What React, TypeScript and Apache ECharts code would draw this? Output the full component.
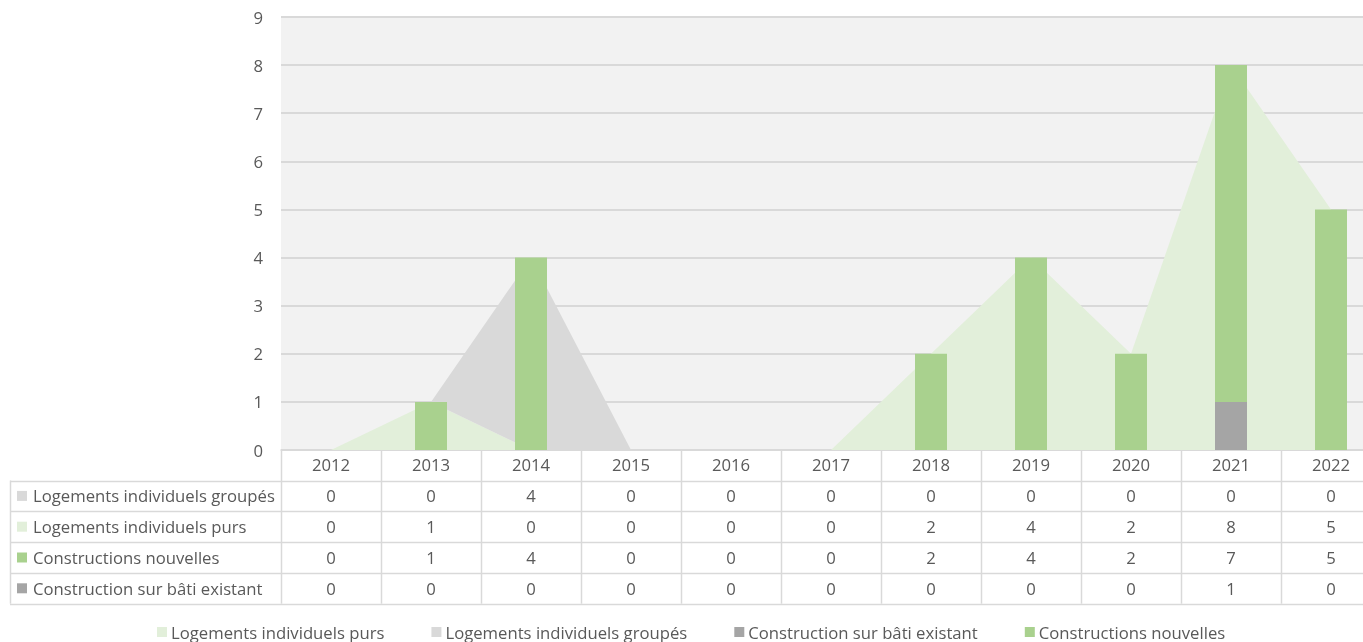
import React, { useEffect, useRef } from "react";
import * as echarts from "echarts";

const years = ["2012", "2013", "2014", "2015", "2016", "2017", "2018", "2019", "2020", "2021", "2022"];
const groupes = [0, 0, 4, 0, 0, 0, 0, 0, 0, 0, 0];
const purs = [0, 1, 0, 0, 0, 0, 2, 4, 2, 8, 5];
const nouvelles = [0, 1, 4, 0, 0, 0, 2, 4, 2, 7, 5];
const batiExistant = [0, 0, 0, 0, 0, 0, 0, 0, 0, 1, 0];

const NAME_PURS = "Logements individuels purs";
const NAME_GROUPES = "Logements individuels groupés";
const NAME_BATI = "Construction sur bâti existant";
const NAME_NOUV = "Constructions nouvelles";

const C_PURS = "#e2efda";
const C_GROUPES = "#d9d9d9";
const C_BATI = "#a5a5a5";
const C_NOUV = "#a9d18e";

const FONT = "'Open Sans', sans-serif";
const FS = 16.7;
const TXT = "#595959";
const LINE = "#d9d9d9";

export default function App() {
  const ref = useRef<HTMLDivElement>(null);
  useEffect(() => {
    if (!ref.current) return;
    const chart = echarts.init(ref.current, undefined, { renderer: "svg" });
    const gridLeft = 281;
    const gridTop = 17;
    const gridHeight = 433;
    chart.setOption({
      animation: false,
      textStyle: { fontFamily: FONT, color: TXT },
      grid: {
        left: gridLeft,
        top: gridTop,
        width: 1100,
        height: gridHeight,
        show: true,
        backgroundColor: "#f2f2f2",
        borderWidth: 0,
      },
      legend: {
        left: 157,
        top: 623,
        padding: 0,
        icon: "rect",
        itemWidth: 10,
        itemHeight: 10,
        itemGap: 47,
        textStyle: { fontFamily: FONT, fontSize: FS, color: TXT, lineHeight: 18, padding: [0, 0, 0, -1] },
        data: [NAME_PURS, NAME_GROUPES, NAME_BATI, NAME_NOUV],
      },
      xAxis: {
        type: "category",
        data: years,
        boundaryGap: true,
        axisLine: { show: true, lineStyle: { color: LINE, width: 1.5 } },
        axisTick: { show: false },
        axisLabel: { fontFamily: FONT, fontSize: FS, color: TXT, margin: 6 },
      },
      yAxis: {
        type: "value",
        min: 0,
        max: 9,
        interval: 1,
        axisLine: { show: false },
        axisTick: { show: false },
        splitLine: { lineStyle: { color: LINE, width: 2 } },
        axisLabel: { fontFamily: FONT, fontSize: FS, color: TXT, margin: 18 },
      },
      series: [
        {
          name: NAME_PURS,
          type: "line",
          stack: "area",
          data: purs,
          symbol: "none",
          z: 1,
          lineStyle: { width: 0 },
          itemStyle: { color: C_PURS },
          areaStyle: { color: C_PURS, opacity: 1 },
        },
        {
          name: NAME_GROUPES,
          type: "line",
          stack: "area",
          data: groupes,
          symbol: "none",
          z: 1,
          lineStyle: { width: 0 },
          itemStyle: { color: C_GROUPES },
          areaStyle: { color: C_GROUPES, opacity: 1 },
        },
        {
          name: NAME_BATI,
          type: "bar",
          stack: "bar",
          data: batiExistant,
          barWidth: 32,
          z: 5,
          itemStyle: { color: C_BATI },
        },
        {
          name: NAME_NOUV,
          type: "bar",
          stack: "bar",
          data: nouvelles,
          barWidth: 32,
          z: 5,
          itemStyle: { color: C_NOUV },
        },
      ],
    });

    // Data table below the axis
    const rows = [
      { name: NAME_GROUPES, color: C_GROUPES, values: groupes },
      { name: NAME_PURS, color: C_PURS, values: purs },
      { name: NAME_NOUV, color: C_NOUV, values: nouvelles },
      { name: NAME_BATI, color: C_BATI, values: batiExistant },
    ];
    const x0 = chart.convertToPixel({ xAxisIndex: 0 }, 0) as number;
    const x1 = chart.convertToPixel({ xAxisIndex: 0 }, 1) as number;
    const band = x1 - x0;
    const centers = years.map((_, i) => chart.convertToPixel({ xAxisIndex: 0 }, i) as number);
    const axisY = gridTop + gridHeight;
    const headerBottom = axisY + 30.5;
    const rowH = 30.8;
    const tableBottom = headerBottom + rowH * rows.length;
    const tableLeft = 10;
    const colLeft = centers[0] - band / 2;
    const colRight = centers[centers.length - 1] + band / 2;

    const g: any[] = [];
    for (let i = 0; i <= years.length; i++) {
      const x = Math.round(colLeft + i * band) + 0.5;
      g.push({ type: "line", shape: { x1: x, y1: axisY, x2: x, y2: tableBottom }, style: { stroke: LINE, lineWidth: 1.5 } });
    }
    g.push({ type: "line", shape: { x1: tableLeft + 0.5, y1: headerBottom, x2: tableLeft + 0.5, y2: tableBottom }, style: { stroke: LINE, lineWidth: 1.5 } });
    for (let r = 0; r <= rows.length; r++) {
      const y = Math.round(headerBottom + r * rowH) + 0.5;
      g.push({ type: "line", shape: { x1: tableLeft, y1: y, x2: colRight, y2: y }, style: { stroke: LINE, lineWidth: 1.5 } });
    }
    rows.forEach((row, r) => {
      const cy = headerBottom + r * rowH + rowH / 2;
      g.push({ type: "rect", shape: { x: 17, y: cy - 5, width: 10, height: 10 }, style: { fill: row.color } });
      g.push({
        type: "text",
        style: { text: row.name, x: 33, y: cy, fill: TXT, fontFamily: FONT, fontSize: FS, align: "left", verticalAlign: "middle" },
      });
      row.values.forEach((v, i) => {
        g.push({
          type: "text",
          style: { text: String(v), x: centers[i], y: cy, fill: TXT, fontFamily: FONT, fontSize: FS, align: "center", verticalAlign: "middle" },
        });
      });
    });
    chart.setOption({ graphic: g });

    return () => chart.dispose();
  }, []);
  return (
    <div style={{ position: "fixed", left: 0, top: 0, width: 1363, height: 642, overflow: "hidden" }}>
      <div ref={ref} style={{ width: 1381, height: 642 }} />
    </div>
  );
}
